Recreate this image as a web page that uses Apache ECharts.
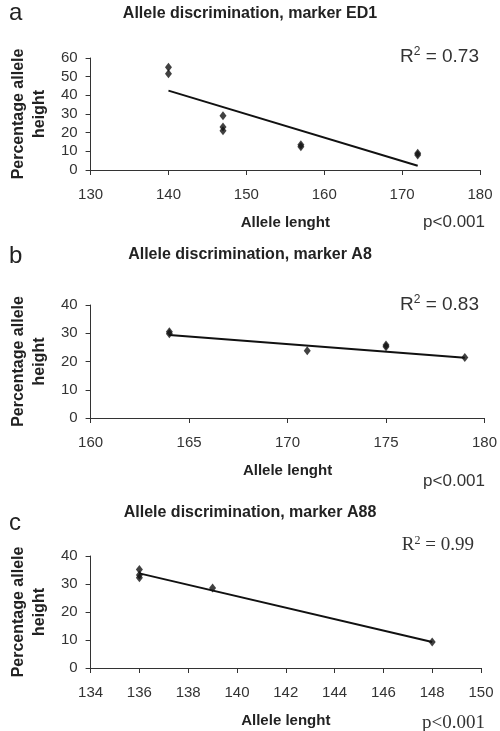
<!DOCTYPE html>
<html>
<head>
<meta charset="utf-8">
<script src="https://cdn.jsdelivr.net/npm/echarts@6/dist/echarts.min.js"></script>
<style>
  html, body { margin: 0; padding: 0; background: #fff; }
  #main { width: 500px; height: 731px; }
</style>
</head>
<body>
<div id="main"></div>
<script>
// panel a - marker ED1
var edLength = [140, 140, 147, 147, 147, 157, 157, 172, 172];
var edHeight = [55, 51.5, 29, 23, 21, 13.5, 12.5, 9, 8];
var edTrendX = [140, 172];
var edTrendY = [42.5, 2.3];

// panel b - marker A8
var a8Length = [164, 164, 171, 175, 175, 179];
var a8Height = [30.5, 29.8, 23.8, 25.8, 25.2, 21.4];
var a8TrendX = [164, 179];
var a8TrendY = [29.4, 21.3];

// panel c - marker A88
var a88Length = [136, 136, 136, 139, 148];
var a88Height = [35.2, 33.2, 32.2, 28.6, 9.3];
var a88TrendX = [136, 148];
var a88TrendY = [33.8, 9.3];

var titles = ['Allele discrimination, marker ED1', 'Allele discrimination, marker A8', 'Allele discrimination, marker A88'];
var letters = ['a', 'b', 'c'];
var r2 = ['0.73', '0.83', '0.99'];

var myChart = echarts.init(document.getElementById('main'));

var font = 'Liberation Sans, Arial, sans-serif';
var serif = 'Liberation Serif, Times New Roman, serif';
var grids = [
    { left: 88, top: 58, width: 392, height: 112 },
    { left: 86, top: 305, width: 399, height: 113 },
    { left: 86, top: 556, width: 395, height: 112 }
];
var xRanges = [[130, 180, 10], [160, 180, 5], [134, 150, 2]];
var yRanges = [[0, 60, 10], [0, 40, 10], [0, 40, 10]];

function xAxisFor(i) {
    return {
        type: 'value', gridIndex: i,
        min: xRanges[i][0], max: xRanges[i][1], interval: xRanges[i][2],
        name: 'Allele lenght', nameLocation: 'middle', nameGap: 45,
        nameTextStyle: { fontFamily: font, fontWeight: 'bold', fontSize: 15, color: '#222' },
        axisLine: { lineStyle: { color: '#333', width: 1 } },
        axisTick: { show: true, inside: false, length: 5, lineStyle: { color: '#333' } },
        axisLabel: { fontFamily: font, fontSize: 15, color: '#333', margin: 17 },
        splitLine: { show: false }
    };
}
function yAxisFor(i) {
    return {
        type: 'value', gridIndex: i,
        min: yRanges[i][0], max: yRanges[i][1], interval: yRanges[i][2],
        name: 'Percentage allele\nheight', nameLocation: 'middle', nameGap: 40, nameRotate: 90,
        nameTextStyle: { fontFamily: font, fontWeight: 'bold', fontSize: 16, color: '#222', lineHeight: 21 },
        axisLine: { show: true, lineStyle: { color: '#333', width: 1 } },
        axisTick: { show: true, length: 5, lineStyle: { color: '#333' } },
        axisLabel: { fontFamily: font, fontSize: 15, color: '#333', margin: 13 },
        splitLine: { show: false }
    };
}
function zip(a, b) {
    var out = [];
    for (var i = 0; i < a.length; i++) out.push([a[i], b[i]]);
    return out;
}

var pts = [zip(edLength, edHeight), zip(a8Length, a8Height), zip(a88Length, a88Height)];
var trends = [zip(edTrendX, edTrendY), zip(a8TrendX, a8TrendY), zip(a88TrendX, a88TrendY)];

var series = [];
for (var i = 0; i < 3; i++) {
    series.push({
        type: 'line', xAxisIndex: i, yAxisIndex: i, data: trends[i],
        symbol: 'none', lineStyle: { color: '#111', width: 2 }, z: 2
    });
    series.push({
        type: 'scatter', xAxisIndex: i, yAxisIndex: i, data: pts[i],
        symbol: 'diamond', symbolSize: [7, 9], itemStyle: { color: '#111' }, z: 3
    });
}

var titleY = [14, 255, 513];
var letterY = [13, 256, 523];
var graphics = [];
for (var i = 0; i < 3; i++) {
    graphics.push({
        type: 'text', x: 9, y: letterY[i],
        style: { text: letters[i], font: '24px ' + font, fill: '#222', textVerticalAlign: 'middle' }
    });
    graphics.push({
        type: 'text', x: 250, y: titleY[i],
        style: { text: titles[i], font: 'bold 16px ' + font, fill: '#222', textAlign: 'center', textVerticalAlign: 'middle' }
    });
}
function r2Text(x, y, val, fam) {
    return {
        type: 'text', x: x, y: y,
        style: {
            text: '{a|R}{s|2}{a| = ' + val + '}', textAlign: 'right', textVerticalAlign: 'middle',
            rich: {
                a: { fontFamily: fam, fontSize: 19, fill: '#333', verticalAlign: 'bottom' },
                s: { fontFamily: fam, fontSize: 12, fill: '#333', verticalAlign: 'top', padding: [0, 0, 8, 0] }
            }
        }
    };
}
graphics.push(r2Text(479, 56, r2[0], font));
graphics.push(r2Text(479, 304, r2[1], font));
graphics.push(r2Text(474, 545, r2[2], serif));
graphics.push({ type: 'text', x: 485, y: 222, style: { text: 'p<0.001', font: '17px ' + font, fill: '#333', textAlign: 'right', textVerticalAlign: 'middle' } });
graphics.push({ type: 'text', x: 485, y: 481, style: { text: 'p<0.001', font: '17px ' + font, fill: '#333', textAlign: 'right', textVerticalAlign: 'middle' } });
graphics.push({ type: 'text', x: 485, y: 723, style: { text: 'p<0.001', font: '19px ' + serif, fill: '#333', textAlign: 'right', textVerticalAlign: 'middle' } });

var option = {
    backgroundColor: '#fff',
    animation: false,
    grid: grids,
    xAxis: [xAxisFor(0), xAxisFor(1), xAxisFor(2)],
    yAxis: [yAxisFor(0), yAxisFor(1), yAxisFor(2)],
    series: series,
    graphic: graphics
};
myChart.setOption(option);
</script>
</body>
</html>
